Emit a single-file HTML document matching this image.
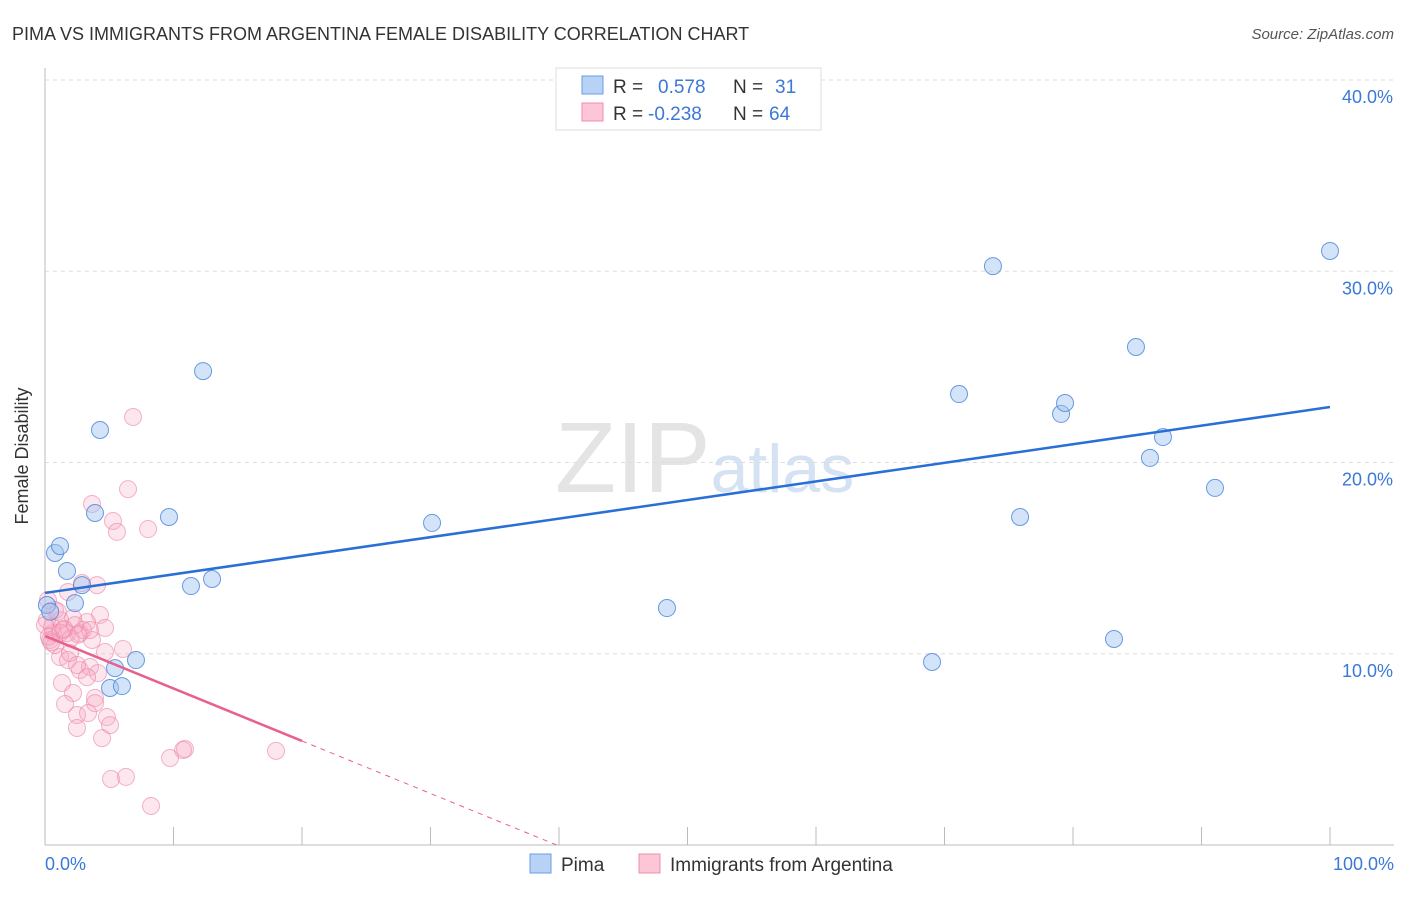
<!DOCTYPE html>
<html><head><meta charset="utf-8"><style>
body{margin:0;background:#fff;font-family:"Liberation Sans",sans-serif;}
svg text{font-family:"Liberation Sans",sans-serif;}
</style></head><body>
<svg id="chart" width="1406" height="892" viewBox="0 0 1406 892">
<text x="12" y="40" font-size="18" fill="#333">PIMA VS IMMIGRANTS FROM ARGENTINA FEMALE DISABILITY CORRELATION CHART</text>
<text x="1394" y="39" font-size="15" fill="#555" text-anchor="end" font-style="italic">Source: ZipAtlas.com</text>
<text x="555" y="492" font-size="100" fill="#e4e4e4" font-family="Liberation Serif">ZIP<tspan fill="#d4e2f4" font-family="Liberation Sans" font-size="68">atlas</tspan></text>
<g id="grid"></g>
<line x1="45" y1="68" x2="45" y2="845" stroke="#bbb"/>
<line x1="45" y1="845" x2="1394" y2="845" stroke="#bbb"/>
<text x="28" y="456" font-size="18" fill="#333" text-anchor="middle" transform="rotate(-90 28 456)">Female Disability</text>
<text x="45" y="870" font-size="18" fill="#3b78d8">0.0%</text>
<text x="1394" y="870" font-size="18" fill="#3b78d8" text-anchor="end">100.0%</text>
<g id="marks"></g>
<g>
<rect x="556" y="68" width="265" height="62" fill="#fff" stroke="#ddd"/>
<rect x="582" y="76" width="21" height="18" fill="#b8d2f5" stroke="#6a9ee6"/>
<rect x="582" y="103" width="21" height="18" fill="#fcc6d6" stroke="#ee8fae"/>
<text x="613" y="93" font-size="19" fill="#333">R =</text>
<text x="658" y="93" font-size="19" fill="#3b78d8">0.578</text>
<text x="733" y="93" font-size="19" fill="#333">N =</text>
<text x="775" y="93" font-size="19" fill="#3b78d8">31</text>
<text x="613" y="120" font-size="19" fill="#333">R =</text>
<text x="648" y="120" font-size="19" fill="#3b78d8">-0.238</text>
<text x="733" y="120" font-size="19" fill="#333">N =</text>
<text x="769" y="120" font-size="19" fill="#3b78d8">64</text>
</g>
<g>
<rect x="530" y="854" width="21" height="19" fill="#b8d2f5" stroke="#6a9ee6"/>
<text x="561" y="871" font-size="19" fill="#333">Pima</text>
<rect x="639" y="854" width="21" height="19" fill="#fcc6d6" stroke="#ee8fae"/>
<text x="670" y="871" font-size="19" fill="#333">Immigrants from Argentina</text>
</g>
</svg>
<script>
const yTicks=[10,20,30,40];
const xTicks=[0,10,20,30,40,50,60,70,80,90,100];
const pimaX=[0.78,1.17,1.71,2.33,2.88,3.89,4.28,5.06,5.45,5.99,7.08,9.65,11.36,12.30,13.00,30.12,48.40,69.03,73.77,71.13,75.88,79.07,79.38,83.19,84.90,85.99,87.00,91.05,100,0.15,0.4];
const pimaY=[15.27,15.63,14.33,12.65,13.59,17.36,21.70,8.21,9.25,8.31,9.67,17.15,13.54,24.78,13.91,16.84,12.39,9.57,30.27,23.58,17.15,22.54,23.11,10.77,26.04,20.24,21.33,18.67,31.06,12.55,12.2];
const argX=[6.85,6.46,3.66,5.29,5.60,8.02,4.05,2.88,4.28,4.67,6.07,4.67,3.27,2.18,1.17,0.62,0.39,1.71,2.72,1.17,1.79,2.72,3.50,4.12,3.27,1.32,2.18,3.89,3.89,1.56,2.49,3.35,4.82,5.06,2.49,4.44,10.89,9.73,17.98,5.14,6.30,8.25,0.78,1.40,0.54,2.96,3.66,1.95,2.49,0.23,1.79,10.74,0.15,0,1.0,2.33,0.78,3.5,0.3,1.2,2.0,0.5,1.5,2.6];
const argY=[22.38,18.61,17.83,16.94,16.37,16.52,13.59,13.70,12.03,11.35,10.25,10.09,11.66,11.87,11.76,11.08,10.72,11.08,11.08,9.83,9.67,9.15,9.31,8.99,8.78,8.47,7.95,7.69,7.42,7.37,6.80,6.90,6.69,6.27,6.12,5.59,5.02,4.55,4.92,3.45,3.56,2.04,12.29,11.24,11.40,11.24,10.72,10.04,9.41,12.81,13.23,4.97,11.76,11.5,12.2,11.5,10.46,11.24,10.9,11.1,10.8,10.6,11.3,11.0];
const pimaLine=[13.18,22.9];
const argLine=[10.93,5.44];
const argLineEnd=20;
const sx=v=>45+v*12.85;
const sy=v=>845-v*19.125;
const NS="http://www.w3.org/2000/svg";
const grid=document.getElementById('grid'),marks=document.getElementById('marks');
function mk(tag,attrs,parent){const e=document.createElementNS(NS,tag);for(const k in attrs)e.setAttribute(k,attrs[k]);parent.appendChild(e);return e;}
yTicks.forEach(t=>{
 const l=mk('line',{x1:45,x2:1394,y1:sy(t),y2:sy(t),stroke:'#ddd','stroke-dasharray':'4,4'},grid);
 
 
 const tx=mk('text',{x:1393,y:sy(t)+23,'font-size':18,fill:'#3b78d8','text-anchor':'end'},grid);
 tx.textContent=t.toFixed(1)+'%';
 
 
});
xTicks.forEach(t=>{
 const l=mk('line',{x1:sx(t),x2:sx(t),y1:827,y2:845,stroke:'#bbb'},grid);
 
 
});
argX.forEach((x,i)=>{
 const c=mk('circle',{cx:sx(x),cy:sy(argY[i]),r:8.5,fill:'rgba(248,170,195,0.28)',stroke:'rgba(235,130,165,0.6)','stroke-width':1},marks);
 
 
});
pimaX.forEach((x,i)=>{
 const c=mk('circle',{cx:sx(x),cy:sy(pimaY[i]),r:8.5,fill:'rgba(160,195,240,0.45)',stroke:'rgba(70,130,220,0.8)','stroke-width':1},marks);
 
 
});
const bl=mk('line',{x1:sx(0),y1:sy(pimaLine[0]),x2:sx(100),y2:sy(pimaLine[1]),stroke:'#2a6fd6','stroke-width':2.5},marks);


const slope=(argLine[1]-argLine[0])/argLineEnd;
const zeroX=-argLine[0]/slope;
const pl=mk('line',{x1:sx(0),y1:sy(argLine[0]),x2:sx(argLineEnd),y2:sy(argLine[1]),stroke:'#e8608e','stroke-width':2.5},marks);


const pd=mk('line',{x1:sx(argLineEnd),y1:sy(argLine[1]),x2:sx(zeroX),y2:sy(0),stroke:'#e8608e','stroke-width':1,'stroke-dasharray':'5,5'},marks);


</script>
</body></html>
